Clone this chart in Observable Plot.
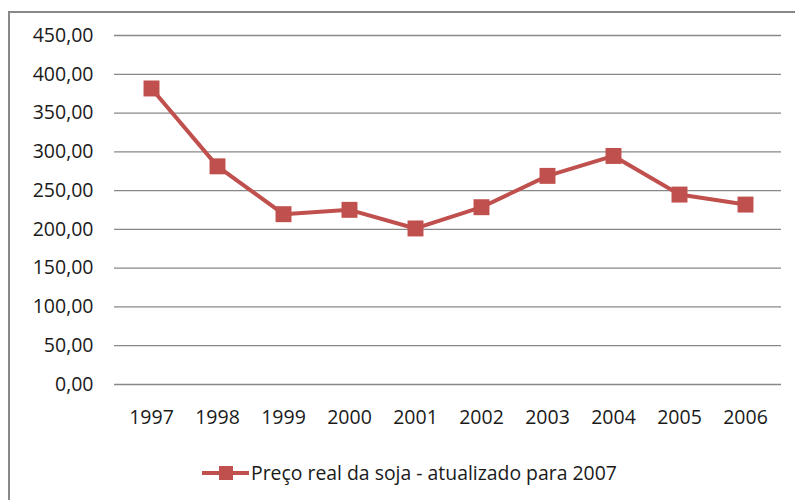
<!DOCTYPE html>
<html>
<head>
<meta charset="utf-8">
<script src="https://cdn.jsdelivr.net/npm/d3@7"></script>
<script src="https://cdn.jsdelivr.net/npm/@observablehq/plot@0.6"></script>
<style>
  html, body { margin: 0; padding: 0; background: #fff; }
  #wrap { position: relative; width: 795px; height: 500px; overflow: hidden; font-family: "Open Sans", sans-serif; }
  #frame { position: absolute; left: 8px; top: 11px; right: -5px; bottom: -5px; border-left: 2px solid #888; border-top: 2px solid #888; pointer-events: none; }
  #chart { position: absolute; left: 0; top: 0; }
  #legend { position: absolute; left: 0; top: 455px; width: 795px; height: 45px; }
  #legend .key { position: absolute; left: 202px; top: 11px; width: 47px; height: 14px; }
  #legend .key .ln { position: absolute; left: 0; top: 5px; width: 47px; height: 4px; background: #c0504d; }
  #legend .key .sq { position: absolute; left: 17px; top: 0; width: 14px; height: 14px; background: #c0504d; }
  #legend .txt { position: absolute; left: 251px; top: 4px; font-size: 19.4px; color: #1a1a1a; white-space: nowrap; }
</style>
</head>
<body>
<div id="wrap">
  <div id="chart"></div>
  <div id="legend">
    <div class="key"><div class="ln"></div><div class="sq"></div></div>
    <div class="txt" id="legtxt"></div>
  </div>
  <div id="frame"></div>
</div>
<script>
const years = ["1997","1998","1999","2000","2001","2002","2003","2004","2005","2006"];
const prices = [381.7, 281.3, 219.6, 225.2, 201.2, 228.6, 269.0, 294.7, 244.9, 232.0];
const yTicks = [0, 50, 100, 150, 200, 250, 300, 350, 400, 450];
const seriesName = "Preço real da soja - atualizado para 2007";

const data = years.map((y, i) => ({year: y, price: prices[i]}));
const loc = d3.formatLocale({decimal: ",", thousands: ".", grouping: [3], currency: ["R$", ""]});
const fmt = loc.format(",.2f");
const color = "#c0504d";

const chart = Plot.plot({
  width: 795,
  height: 455,
  marginLeft: 114,
  marginRight: 14,
  marginTop: 35,
  marginBottom: 71,
  style: {fontFamily: "Open Sans, sans-serif", fontSize: "19.5px", color: "#1a1a1a", background: "transparent"},
  x: {type: "point", domain: years, padding: 0.5, label: null},
  y: {domain: [0, 450], label: null},
  marks: [
    Plot.ruleY(yTicks, {stroke: "#888", strokeWidth: 1.3, strokeOpacity: 1}),
    Plot.axisY({ticks: yTicks, tickFormat: fmt, tickSize: 0, tickPadding: 21, label: null, fontSize: 19.5}),
    Plot.axisX({tickSize: 0, tickPadding: 26, label: null, fontSize: 19.5}),
    Plot.line(data, {x: "year", y: "price", stroke: color, strokeWidth: 4}),
    Plot.dot(data, {x: "year", y: "price", symbol: "square", r: 9, fill: color, stroke: "none"})
  ]
});
document.getElementById("chart").appendChild(chart);
document.getElementById("legtxt").textContent = seriesName;
</script>
</body>
</html>
